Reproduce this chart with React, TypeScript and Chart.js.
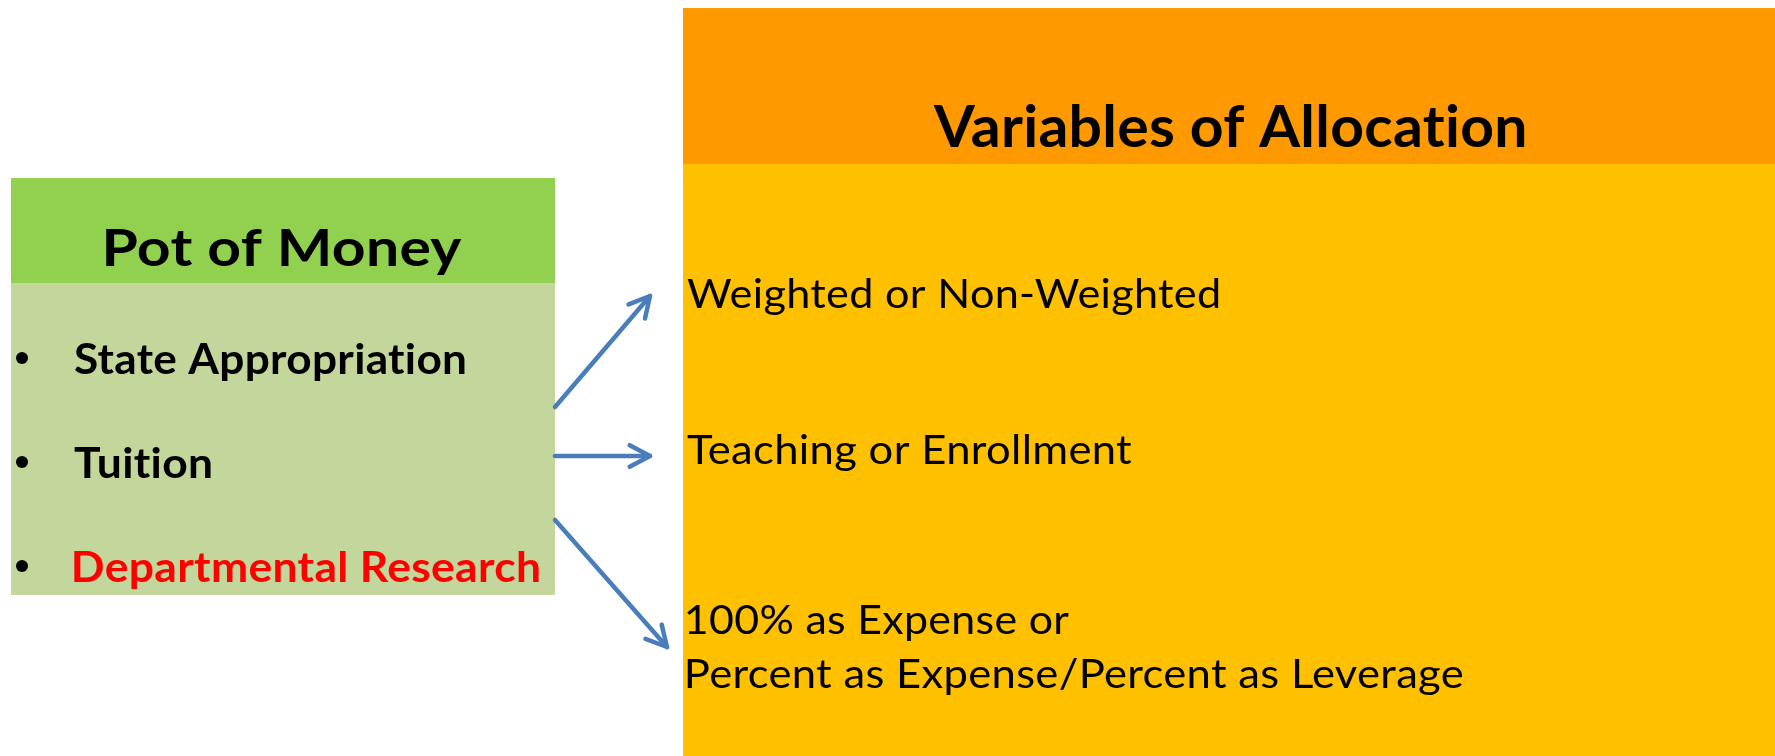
import React, { useEffect, useRef } from 'react';
import { Chart, registerables } from 'chart.js';

Chart.register(...registerables);

// ---------- content ----------
const potTitle = 'Pot of Money';
const potItems = ['State Appropriation', 'Tuition', 'Departmental Research'];
const potItemColors = ['#000000', '#000000', '#FF0000'];
const variablesTitle = 'Variables of Allocation';
const variableLines = [
  'Weighted or Non-Weighted',
  'Teaching or Enrollment',
  '100% as Expense or',
  'Percent as Expense/Percent as Leverage',
];

// ---------- layout (in canvas units, mapped through the chart scales) ----------
const W = 1775;
const H = 756;
const FONT = 'Lato, "Open Sans", "Noto Sans", sans-serif';
const ARROW_COLOR = '#4A7EBB';

const boxes = [
  { x0: 11, x1: 555, y0: 178, y1: 283, color: '#92D050' },
  { x0: 11, x1: 555, y0: 283, y1: 595, color: '#C3D69B' },
  { x0: 683, x1: 1775, y0: 8, y1: 164, color: '#FF9900' },
  { x0: 683, x1: 1775, y0: 164, y1: 756, color: '#FFC000' },
];

const arrows = [
  { x0: 555, y0: 407, x1: 650, y1: 296 },
  { x0: 555, y0: 456, x1: 650, y1: 456 },
  { x0: 555, y0: 520, x1: 667, y1: 647 },
];

const itemBaselines = [374, 478, 582];
const itemWidths = [391, 137, 465];
const lineBaselines = [308, 464, 634, 688];
const lineWidths = [532, 445, 382, 776];

type TextSpec = {
  text: string;
  x: number; // ink left
  baseline: number;
  cap: number;
  width: number;
  bold: boolean;
  color: string;
};

function buildTexts(): TextSpec[] {
  const t: TextSpec[] = [];
  t.push({ text: potTitle, x: 106, baseline: 266, cap: 38, width: 356, bold: true, color: '#000' });
  t.push({ text: variablesTitle, x: 933, baseline: 147, cap: 42, width: 592, bold: true, color: '#000' });
  potItems.forEach((s, i) =>
    t.push({ text: s, x: 74, baseline: itemBaselines[i], cap: 31, width: itemWidths[i], bold: true, color: potItemColors[i] })
  );
  variableLines.forEach((s, i) =>
    t.push({ text: s, x: 687, baseline: lineBaselines[i], cap: 30, width: lineWidths[i], bold: false, color: '#000' })
  );
  return t;
}

function drawFitted(ctx: CanvasRenderingContext2D, chart: any, t: TextSpec) {
  const sxScale = chart.scales.x;
  const syScale = chart.scales.y;
  const px = (v: number) => sxScale.getPixelForValue(v);
  const py = (v: number) => syScale.getPixelForValue(v);
  const weight = t.bold ? 'bold ' : '';
  const c: any = ctx;
  // a tiny letter spacing switches off optional ligatures such as "ti"
  if ('letterSpacing' in c) c.letterSpacing = '0.3px';
  if ('fontVariantLigatures' in c) c.fontVariantLigatures = 'none';
  ctx.font = `${weight}100px ${FONT}`;
  const capRatio = ctx.measureText('H').actualBoundingBoxAscent / 100 || 0.72;
  const capPx = Math.abs(py(t.baseline) - py(t.baseline - t.cap));
  const size = capPx / capRatio;
  ctx.font = `${weight}${size}px ${FONT}`;
  ctx.textAlign = 'left';
  ctx.textBaseline = 'alphabetic';
  const m = ctx.measureText(t.text);
  const inkW = (m.actualBoundingBoxLeft || 0) + (m.actualBoundingBoxRight || m.width);
  const targetW = px(t.x + t.width) - px(t.x);
  const sx = targetW / inkW;
  ctx.save();
  ctx.translate(px(t.x) + (m.actualBoundingBoxLeft || 0) * sx, py(t.baseline));
  ctx.scale(sx, 1);
  ctx.fillStyle = t.color;
  ctx.fillText(t.text, 0, 0);
  ctx.restore();
}

const backgroundPlugin = {
  id: 'diagramBoxes',
  beforeDatasetsDraw(chart: any) {
    const ctx = chart.ctx as CanvasRenderingContext2D;
    const xs = chart.scales.x;
    const ys = chart.scales.y;
    ctx.save();
    boxes.forEach((b) => {
      const x0 = xs.getPixelForValue(b.x0);
      const x1 = xs.getPixelForValue(b.x1);
      const y0 = ys.getPixelForValue(b.y0);
      const y1 = ys.getPixelForValue(b.y1);
      ctx.fillStyle = b.color;
      ctx.fillRect(x0, Math.min(y0, y1), x1 - x0, Math.abs(y1 - y0));
    });
    ctx.restore();
  },
};

const overlayPlugin = {
  id: 'diagramOverlay',
  afterDatasetsDraw(chart: any) {
    const ctx = chart.ctx as CanvasRenderingContext2D;
    const xs = chart.scales.x;
    const ys = chart.scales.y;
    // arrow heads
    ctx.save();
    ctx.strokeStyle = ARROW_COLOR;
    ctx.lineWidth = 4.5;
    ctx.lineCap = 'round';
    ctx.lineJoin = 'round';
    arrows.forEach((a) => {
      const sx = xs.getPixelForValue(a.x0);
      const sy = ys.getPixelForValue(a.y0);
      const tx = xs.getPixelForValue(a.x1);
      const ty = ys.getPixelForValue(a.y1);
      const ang = Math.atan2(ty - sy, tx - sx);
      const len = 23;
      const spread = (28 * Math.PI) / 180;
      ctx.beginPath();
      ctx.moveTo(tx - len * Math.cos(ang - spread), ty - len * Math.sin(ang - spread));
      ctx.lineTo(tx, ty);
      ctx.lineTo(tx - len * Math.cos(ang + spread), ty - len * Math.sin(ang + spread));
      ctx.stroke();
    });
    ctx.restore();
    // bullets
    ctx.save();
    ctx.fillStyle = '#000';
    itemBaselines.forEach((b) => {
      ctx.beginPath();
      ctx.arc(xs.getPixelForValue(22), ys.getPixelForValue(b - 16), 6, 0, Math.PI * 2);
      ctx.fill();
    });
    ctx.restore();
    // texts
    buildTexts().forEach((t) => drawFitted(ctx, chart, t));
  },
};

export default function App() {
  const ref = useRef<HTMLCanvasElement | null>(null);
  useEffect(() => {
    if (!ref.current) return;
    const chart = new Chart(ref.current, {
      type: 'scatter',
      data: {
        datasets: arrows.map((a) => ({
          data: [
            { x: a.x0, y: a.y0 },
            { x: a.x1, y: a.y1 },
          ],
          showLine: true,
          borderColor: ARROW_COLOR,
          backgroundColor: ARROW_COLOR,
          borderWidth: 4.5,
          borderCapStyle: 'round',
          pointRadius: 0,
          pointHoverRadius: 0,
        })),
      },
      options: {
        responsive: false,
        maintainAspectRatio: false,
        animation: false,
        events: [],
        layout: { padding: 0 },
        scales: {
          x: { type: 'linear', min: 0, max: W, display: false },
          y: { type: 'linear', min: 0, max: H, reverse: true, display: false },
        },
        plugins: {
          legend: { display: false },
          tooltip: { enabled: false },
          title: { display: false },
        },
      } as any,
      plugins: [backgroundPlugin, overlayPlugin],
    });
    return () => chart.destroy();
  }, []);
  return (
    <div style={{ position: 'absolute', left: 0, top: 0, width: W, height: H, background: '#fff' }}>
      <canvas
        ref={ref}
        width={W}
        height={H}
        style={{ display: 'block', width: W, height: H, fontVariantLigatures: 'none' }}
      />
    </div>
  );
}
